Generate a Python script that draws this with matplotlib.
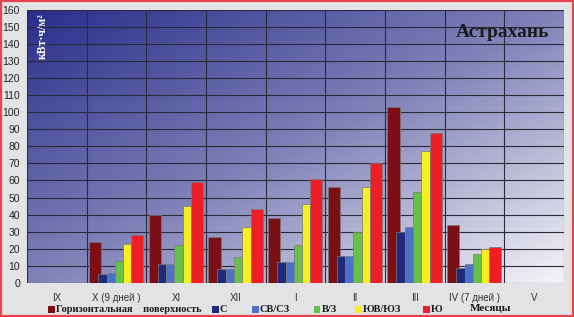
import matplotlib
matplotlib.use("Agg")
import matplotlib.pyplot as plt
import numpy as np
from matplotlib.colors import LinearSegmentedColormap
from matplotlib.patches import Rectangle

months = ["IX", "X (9 дней )", "XI", "XII", "I", "II", "III", "IV (7 дней )", "V"]
series_names = ["Горизонтальная    поверхность", "С", "СВ/СЗ", "В/З", "ЮВ/ЮЗ", "Ю"]
horizontal = [np.nan, 24, 40, 27, 38, 56, 103, 34, np.nan]
north = [np.nan, 5, 11, 8, 12, 16, 30, 9, np.nan]
ne_nw = [np.nan, 6, 11, 8, 12, 16, 33, 11, np.nan]
e_w = [np.nan, 13, 22, 15, 22, 30, 53, 17, np.nan]
se_sw = [np.nan, 23, 45, 33, 46, 56, 77, 20, np.nan]
south = [np.nan, 28, 59, 43, 61, 70, 88, 21, np.nan]
series = [horizontal, north, ne_nw, e_w, se_sw, south]
colors = ["#7A1015", "#1F2A7C", "#4B72C6", "#66C04A", "#F6EE1E", "#EE1D26"]
yticks = list(range(0, 161, 10))

# bar offsets (fraction of category) and widths
offsets = [0.04, 0.19, 0.335, 0.469, 0.608, 0.749]
widths = [0.207, 0.145, 0.134, 0.139, 0.141, 0.20]
zorders = [3, 4, 4, 4, 4, 4]

fig = plt.figure(figsize=(5.74, 3.17), dpi=100)
fig.patch.set_facecolor("#E3E3E6")
ax = fig.add_axes([27/574, (317-283)/317, 537/574, 273.5/317])

n = len(months)
# gradient background
gx, gy = np.meshgrid(np.linspace(0, 1, 200), np.linspace(1, 0, 200))
t = 0.5 * gx + 0.5 * (1 - gy)
cmap = LinearSegmentedColormap.from_list("bg", ["#2A2D8A", "#8082B8", "#F4F4F7"])
ax.imshow(t, cmap=cmap, extent=[0, n, 0, 160], aspect="auto", zorder=0, vmin=0, vmax=1)

for i in range(n):
    for s, vals in enumerate(series):
        v = vals[i]
        if np.isnan(v):
            continue
        ax.bar(i + offsets[s], v, width=widths[s], align="edge", color=colors[s],
               edgecolor="#7a7a7a", linewidth=0.5, zorder=zorders[s])

for y in yticks:
    ax.axhline(y, color="#2a2a3a", linewidth=0.8, zorder=1)
for i in range(n + 1):
    ax.axvline(i, color="#2a2a3a", linewidth=0.8, zorder=1)

ax.set_xlim(0, n)
ax.set_ylim(0, 160)
ax.set_yticks(yticks)
ax.set_yticklabels([str(y) for y in yticks], fontsize=7.5, family="Liberation Sans", color="#222222")
ax.set_xticks([i + 0.5 for i in range(n)])
ax.set_xticklabels(months, fontsize=7, family="Liberation Sans", color="#333333")
ax.tick_params(axis="both", length=0, pad=5)
ax.tick_params(axis="x", pad=7)
for sp in ax.spines.values():
    sp.set_visible(False)

ax.text(0.03, 0.985, "кВт·ч/м²", transform=ax.transAxes, rotation=90, ha="center", va="top",
        color="white", fontsize=8.5, fontweight="bold", family="Liberation Serif")
ax.text(0.885, 0.915, "Астрахань", transform=ax.transAxes, ha="center", va="center",
        color="#1a1a1a", fontsize=14, fontweight="bold", family="Liberation Serif")

# legend row
leg_y = 309
items = [(48, 0), (212, 1), (252, 2), (314, 3), (355, 4), (423, 5)]
for x, s in items:
    fig.patches.append(Rectangle((x/574, (317-leg_y-3.5)/317), 6.5/574, 7/317,
                                 transform=fig.transFigure, facecolor=colors[s],
                                 edgecolor="none", zorder=5))
    fig.text((x + 8)/574, (317-leg_y)/317, series_names[s], ha="left", va="center",
             fontsize=7.5, fontweight="bold", family="Liberation Serif", color="#1a1a1a")
fig.text(490/574, (317-308.5)/317, "Месяцы", ha="center", va="center",
         fontsize=8, fontweight="bold", family="Liberation Serif", color="#1a1a1a")

# red border
fig.patches.append(Rectangle((0.0015, 0.003), 0.997, 0.994, transform=fig.transFigure,
                             facecolor="none", edgecolor="#E5434E", linewidth=1.6, zorder=10))

fig.savefig("out.png", dpi=100, facecolor=fig.get_facecolor())
